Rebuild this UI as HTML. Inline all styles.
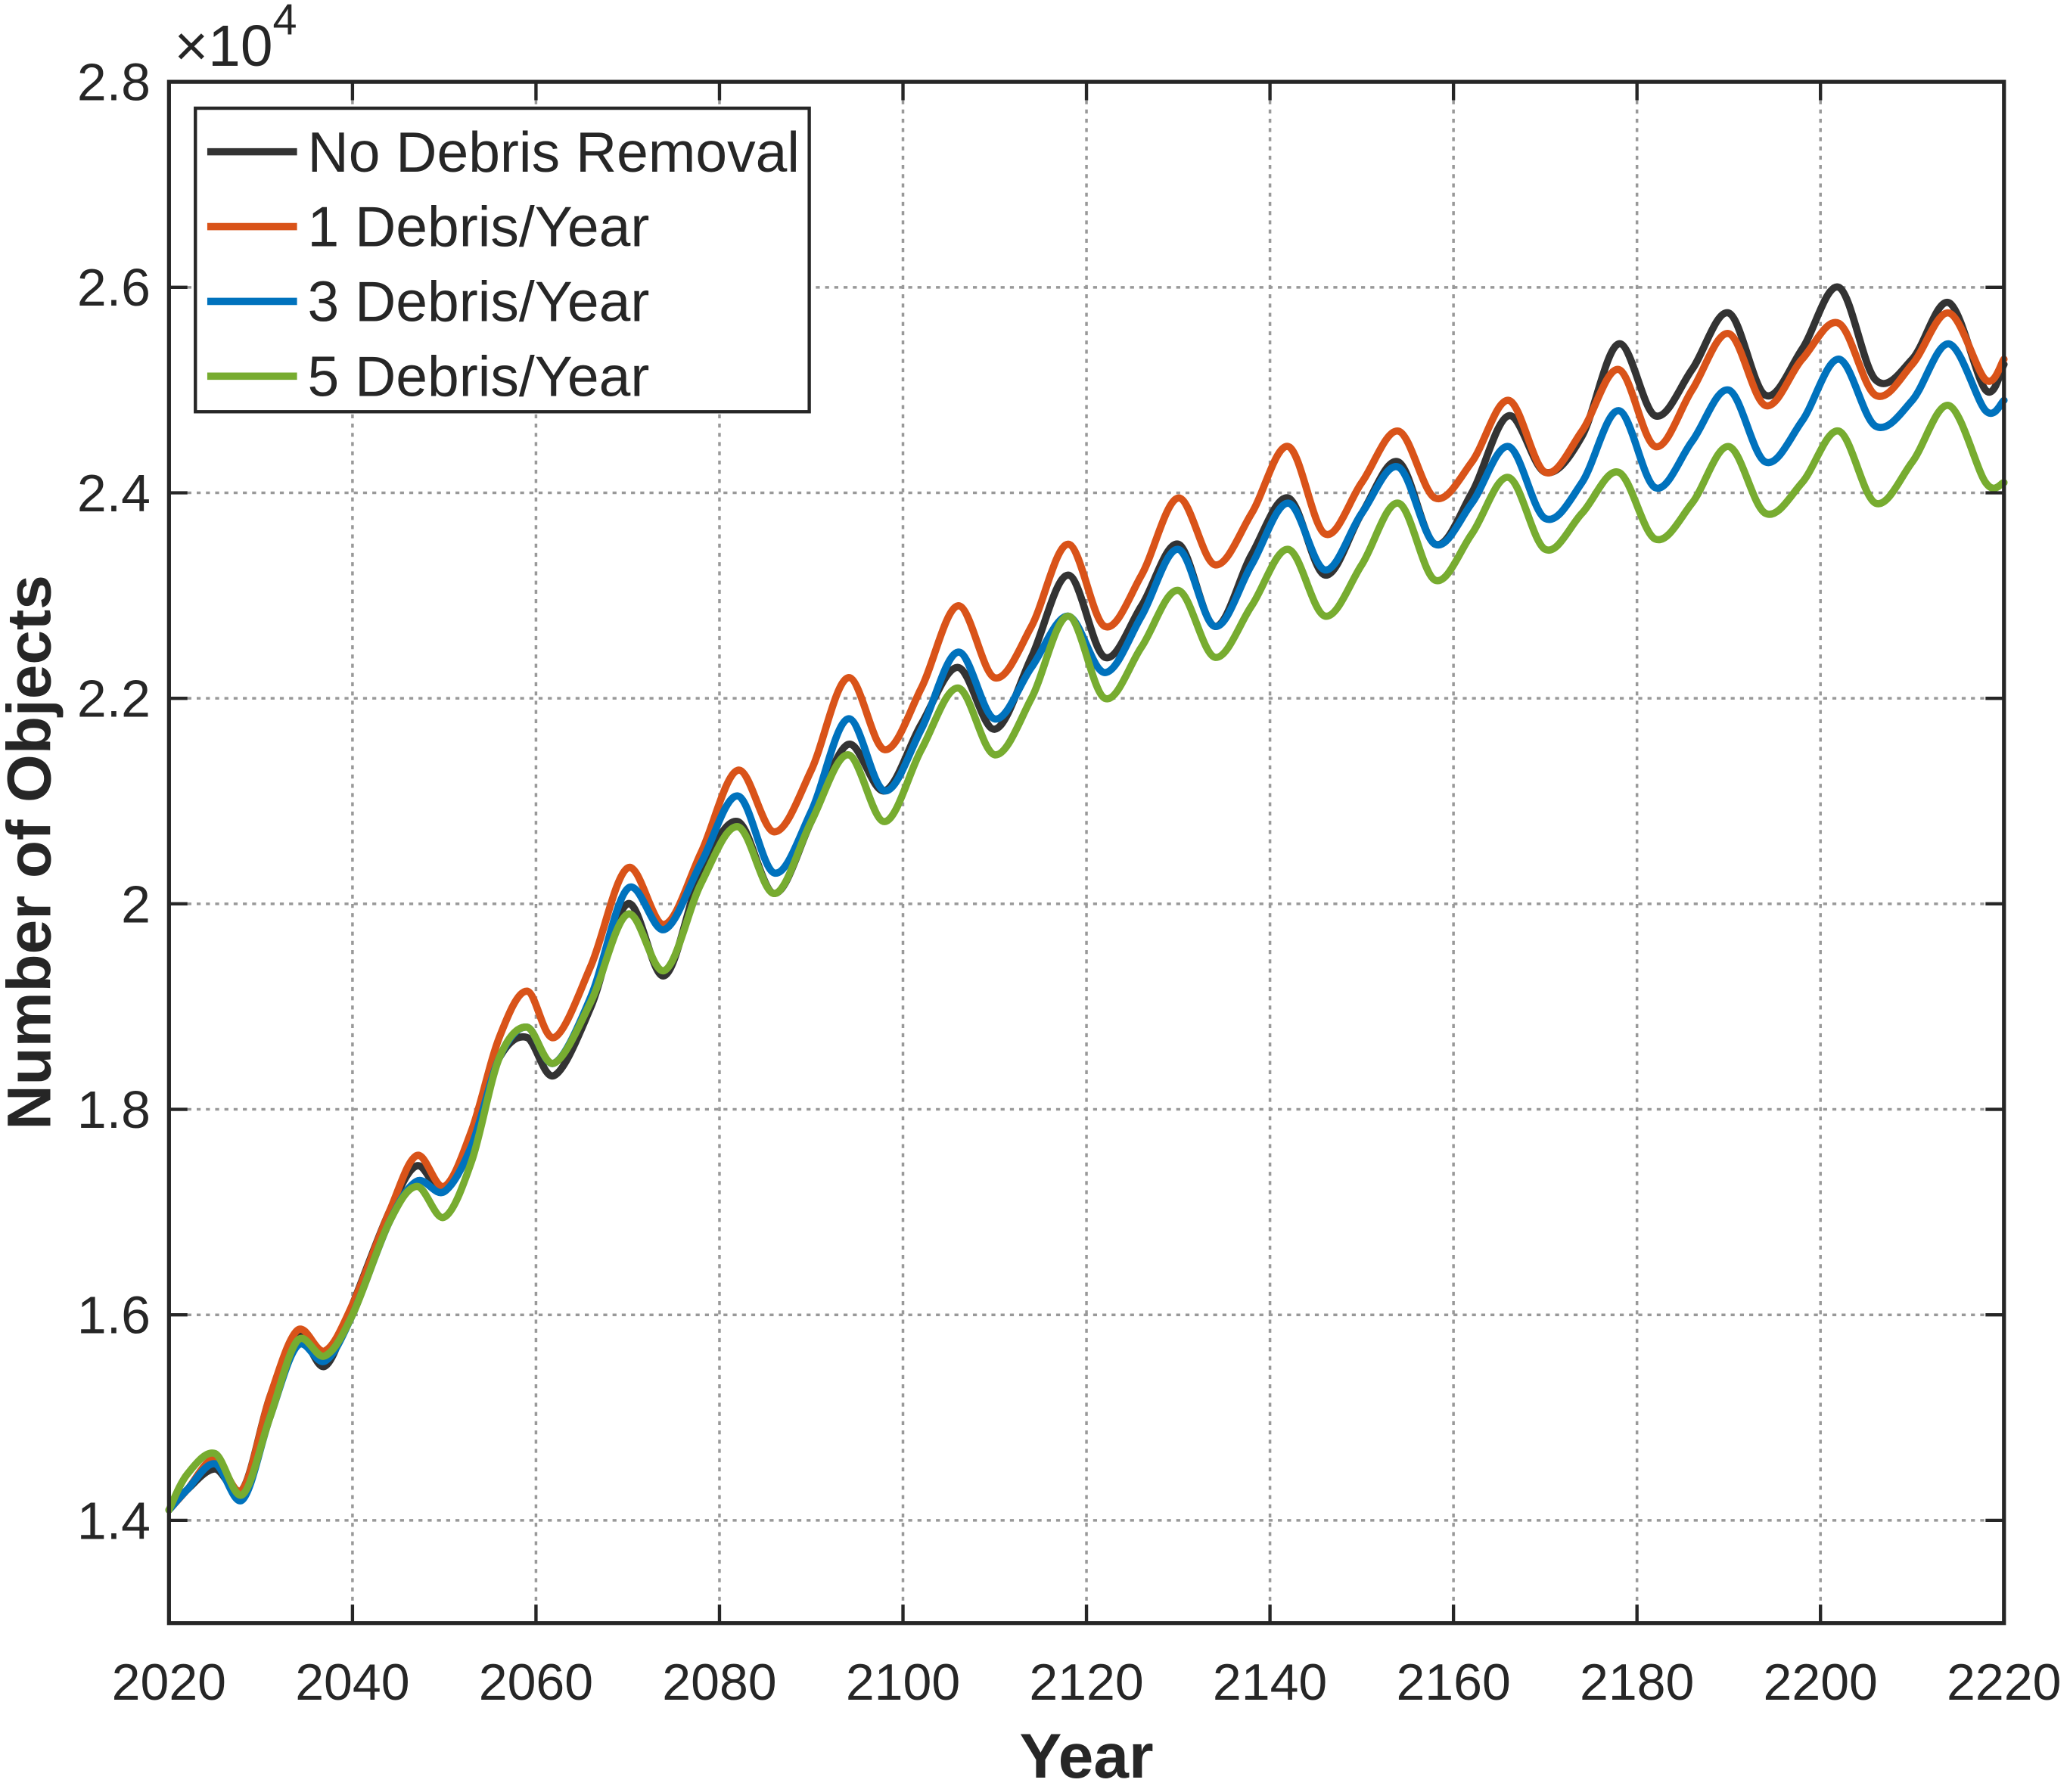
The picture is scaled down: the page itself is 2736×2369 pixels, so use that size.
<!DOCTYPE html>
<html><head><meta charset="utf-8"><style>
html,body{margin:0;padding:0;background:#fff;}
svg{display:block;}
text{font-family:"Liberation Sans",Arial,sans-serif;fill:#262626;}
</style></head><body>
<svg id="chart" width="2736" height="2369" viewBox="0 0 1568 1358" preserveAspectRatio="none" xmlns="http://www.w3.org/2000/svg">
<rect x="0" y="0" width="1568" height="1358" fill="#fff"/>
<g id="grid"></g>
<g id="series"></g>
<rect x="128" y="62" width="1390" height="1168" fill="none" stroke="#262626" stroke-width="3"/>
<g id="ticks"></g>
<text x="132" y="50" font-size="44">×10<tspan font-size="33" dy="-24">4</tspan></text>
<text x="823" y="1347" font-size="48" font-weight="bold" text-anchor="middle">Year</text>
<text transform="translate(38,646) rotate(-90)" font-size="47" font-weight="bold" text-anchor="middle">Number of Objects</text>
<g>
<rect x="148" y="82" width="465" height="230" fill="#fff" stroke="#262626" stroke-width="2.5"/>
<g id="legend-entries"></g>
</g>
</svg>
<script>
const years = [2020,2022,2025,2028,2031,2034,2037,2040,2044,2047,2050,2053,2056,2059,2062,2066,2070,2074,2078,2082,2086,2090,2094,2098,2102,2106,2110,2114,2118,2122,2126,2130,2134,2138,2142,2146,2150,2154,2158,2162,2166,2170,2174,2178,2182,2186,2190,2194,2198,2202,2206,2210,2214,2218,2220];
const noRemoval = [1.41,1.43,1.45,1.43,1.52,1.58,1.55,1.61,1.70,1.745,1.72,1.775,1.85,1.87,1.833,1.90,2.0,1.93,2.03,2.08,2.01,2.08,2.155,2.11,2.175,2.23,2.17,2.24,2.32,2.24,2.29,2.35,2.27,2.34,2.395,2.32,2.38,2.43,2.35,2.40,2.475,2.42,2.455,2.545,2.475,2.52,2.575,2.495,2.54,2.60,2.51,2.53,2.585,2.50,2.525];
const oneYear = [1.41,1.43,1.46,1.43,1.52,1.585,1.565,1.61,1.70,1.755,1.725,1.78,1.87,1.915,1.87,1.94,2.035,1.98,2.05,2.13,2.07,2.13,2.22,2.15,2.21,2.29,2.22,2.27,2.35,2.27,2.32,2.395,2.33,2.38,2.445,2.36,2.41,2.46,2.395,2.43,2.49,2.42,2.46,2.52,2.445,2.50,2.555,2.485,2.53,2.565,2.495,2.525,2.575,2.51,2.53];
const threeYear = [1.41,1.43,1.455,1.42,1.50,1.57,1.555,1.60,1.69,1.73,1.72,1.765,1.85,1.88,1.845,1.91,2.015,1.975,2.04,2.105,2.03,2.09,2.18,2.11,2.17,2.245,2.18,2.23,2.28,2.225,2.28,2.345,2.27,2.33,2.39,2.325,2.38,2.425,2.35,2.39,2.445,2.375,2.41,2.48,2.405,2.45,2.50,2.43,2.47,2.53,2.465,2.49,2.545,2.48,2.49];
const fiveYear = [1.41,1.445,1.465,1.425,1.50,1.575,1.56,1.60,1.69,1.725,1.695,1.75,1.85,1.88,1.845,1.905,1.99,1.935,2.02,2.075,2.01,2.08,2.145,2.08,2.15,2.21,2.145,2.20,2.28,2.20,2.25,2.305,2.24,2.29,2.345,2.28,2.33,2.39,2.315,2.36,2.415,2.345,2.38,2.42,2.355,2.39,2.445,2.38,2.41,2.46,2.39,2.43,2.485,2.41,2.41];
const xTicks = [2020,2040,2060,2080,2100,2120,2140,2160,2180,2200,2220];
const yTicks = [1.4,1.6,1.8,2.0,2.2,2.4,2.6,2.8];
const yTickLabels = ["1.4","1.6","1.8","2","2.2","2.4","2.6","2.8"];
const seriesNames = ["No Debris Removal","1 Debris/Year","3 Debris/Year","5 Debris/Year"];
const seriesColors = ["#333333","#D95319","#0072BD","#77AC30"];

const X0=128,X1=1518,Y0=1230,Y1=62,XMIN=2020,XMAX=2220,YMIN=1.3,YMAX=2.8;
function sx(v){return X0+(v-XMIN)/(XMAX-XMIN)*(X1-X0);}
function sy(v){return Y0-(v-YMIN)/(YMAX-YMIN)*(Y0-Y1);}
const NS="http://www.w3.org/2000/svg";
function mk(tag,attrs,parent){const e=document.createElementNS(NS,tag);for(const k in attrs)e.setAttribute(k,attrs[k]);parent.appendChild(e);return e;}
const grid=document.getElementById('grid'),ticks=document.getElementById('ticks'),ser=document.getElementById('series'),leg=document.getElementById('legend-entries');
xTicks.forEach(t=>{const x=sx(t);
 const g=mk('line',{x1:x,x2:x,y1:Y1,y2:Y0,stroke:'#999',"stroke-width":2,"stroke-dasharray":"3 4"},grid);
 
 
 const a=mk('line',{x1:x,x2:x,y1:Y0,y2:Y0-14,stroke:'#262626',"stroke-width":2.5},ticks);
 
 
 const b=mk('line',{x1:x,x2:x,y1:Y1,y2:Y1+14,stroke:'#262626',"stroke-width":2.5},ticks);
 
 
 const l=mk('text',{x:x,y:1288,"font-size":39,"text-anchor":"middle"},ticks);l.textContent=t;
 
 
});
yTicks.forEach((t,i)=>{const y=sy(t);
 const g=mk('line',{x1:X0,x2:X1,y1:y,y2:y,stroke:'#999',"stroke-width":2,"stroke-dasharray":"3 4"},grid);
 
 
 const a=mk('line',{x1:X0,x2:X0+14,y1:y,y2:y,stroke:'#262626',"stroke-width":2.5},ticks);
 
 
 const b=mk('line',{x1:X1,x2:X1-14,y1:y,y2:y,stroke:'#262626',"stroke-width":2.5},ticks);
 
 
 const l=mk('text',{x:114,y:y+14,"font-size":40,"text-anchor":"end"},ticks);l.textContent=yTickLabels[i];
 
 
});
function smoothPath(px,py){
 let d='M'+px[0].toFixed(1)+','+py[0].toFixed(1);
 for(let i=0;i<px.length-1;i++){
  const i0=Math.max(0,i-1),i3=Math.min(px.length-1,i+2);
  const c1x=px[i]+(px[i+1]-px[i0])/6,c1y=py[i]+(py[i+1]-py[i0])/6;
  const c2x=px[i+1]-(px[i3]-px[i])/6,c2y=py[i+1]-(py[i3]-py[i])/6;
  d+=' C'+c1x.toFixed(1)+','+c1y.toFixed(1)+' '+c2x.toFixed(1)+','+c2y.toFixed(1)+' '+px[i+1].toFixed(1)+','+py[i+1].toFixed(1);
 }
 return d;
}
const all=[noRemoval,oneYear,threeYear,fiveYear];
[0,1,2,3].forEach(k=>{
 const px=years.map(sx),py=all[k].map(sy);
 const p=mk('path',{d:smoothPath(px,py),fill:'none',stroke:seriesColors[k],"stroke-width":5.5,"stroke-linejoin":"round","stroke-linecap":"round"},ser);
 
 
});
seriesNames.forEach((n,k)=>{const y=115+k*56.7;
 const l=mk('line',{x1:157,x2:225,y1:y,y2:y,stroke:seriesColors[k],"stroke-width":5.5},leg);
 
 
 const t=mk('text',{x:233,y:y+15,"font-size":43,fill:'#000'},leg);t.textContent=n;
 
 
});
</script>
</body></html>
